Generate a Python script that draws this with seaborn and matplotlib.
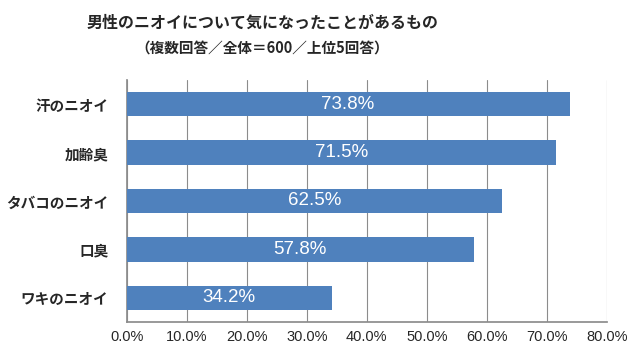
import matplotlib
matplotlib.use("Agg")
import matplotlib.pyplot as plt
from matplotlib.ticker import FuncFormatter, MultipleLocator
import seaborn as sns
import pandas as pd

categories = ["汗のニオイ", "加齢臭", "タバコのニオイ", "口臭", "ワキのニオイ"]
values = [73.8, 71.5, 62.5, 57.8, 34.2]

title = "男性のニオイについて気になったことがあるもの"
subtitle = "（複数回答／全体＝600／上位5回答）"

sns.set_theme(style="white")
plt.rcParams["font.family"] = ["Noto Sans CJK JP", "DejaVu Sans"]

df = pd.DataFrame({"item": categories, "pct": values})

fig = plt.figure(figsize=(6.4, 3.57), dpi=100)
ax = fig.add_axes([0.198, 0.098, 0.75, 0.678])

sns.barplot(data=df, x="pct", y="item", order=categories, color="#4F81BD",
            saturation=1, width=0.5, linewidth=0, ax=ax, zorder=3)

ax.set_xlim(0, 80)
ax.xaxis.set_major_locator(MultipleLocator(10))
ax.xaxis.set_major_formatter(FuncFormatter(lambda v, p: f"{v:.1f}%"))
ax.grid(axis="x", color="#8c8c8c", linewidth=0.8, zorder=0)
ax.set_xlabel("")
ax.set_ylabel("")

for s in ["top", "right"]:
    ax.spines[s].set_visible(False)
ax.spines["left"].set_color("#8c8c8c")
ax.spines["bottom"].set_color("#8c8c8c")
ax.tick_params(axis="x", labelsize=10.5, pad=6, length=0)
ax.tick_params(axis="y", labelsize=10.5, pad=13, length=0)
for lab in ax.get_yticklabels():
    lab.set_fontweight("bold")
for lab in ax.get_xticklabels():
    lab.set_family(["Liberation Sans Narrow", "Liberation Sans", "DejaVu Sans"])

for i, v in enumerate(values):
    ax.text(v / 2, i, f"{v:.1f}%", color="white", ha="center", va="center",
            fontsize=13.5, family=["Liberation Sans Narrow", "Liberation Sans", "DejaVu Sans"],
            zorder=4)

fig.text(0.41, 0.937, title, ha="center", va="center", fontsize=11.5, fontweight="bold")
fig.text(0.41, 0.865, subtitle, ha="center", va="center", fontsize=10.5, fontweight="bold")

fig.savefig("out.png", dpi=100, facecolor="white")
